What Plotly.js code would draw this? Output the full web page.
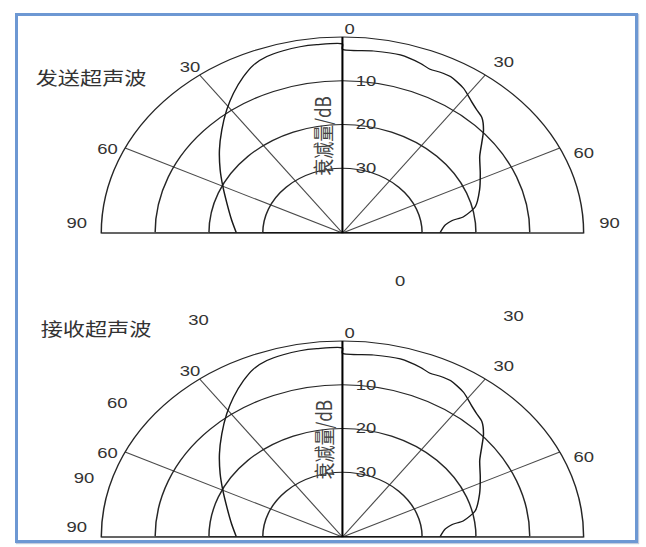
<!DOCTYPE html>
<html>
<head>
<meta charset="utf-8">
<script src="https://cdn.plot.ly/plotly-3.0.1.min.js"></script>
<style>
  html, body { margin: 0; padding: 0; background: #ffffff; }
  #wrap { position: relative; width: 646px; height: 547px; overflow: hidden; background: #fff; }
  #plot { position: absolute; left: 0; top: 0; width: 525px; height: 547px;
          transform: scaleX(1.2305); transform-origin: 0 0; }
  #frame { position: absolute; left: 15px; top: 12.5px; width: 623px; height: 530px;
           box-sizing: border-box; border: 3px solid #6d98d3;
           box-shadow: 1px 1px 1px rgba(80,110,160,0.35); pointer-events: none; }
</style>
</head>
<body>
<div id="wrap">
  <div id="plot"></div>
  <div id="frame"></div>
</div>
<script>
// ---- data (angle in the figure's plotted degrees, attenuation in dB) ----
const sendAngle = [-90, -81.8, -72.5, -64.5, -57.6, -50.3, -43.6, -37.4, -32.4, -27.2, -23.3, -19.2,
                   -14.8, -10.5, -6.3, 0, 0, 7.9, 14.8, 20.4, 23.5, 26.3, 29.3, 34.2, 38.7, 41.6,
                   44.4, 48.1, 51.6, 55.6, 62, 68.9, 76.3, 80.6, 82.1, 84.5, 90];
const sendDb    = [25.1, 24.0, 22.3, 20.2, 17.9, 15.1, 12.3, 9.4, 7.0, 4.6, 3.0, 2.1,
                   1.7, 1.5, 1.5, 1.6, 2.8, 2.8, 2.7, 3.4, 4.0, 3.8, 3.8, 4.8, 6.4, 7.2,
                   7.8, 9.6, 11.8, 13.9, 15.8, 17.5, 19.4, 22.0, 24.3, 25.6, 26.7];

const recvAngle = [-90, -81.8, -72.5, -64.5, -57.6, -50.3, -43.6, -37.4, -32.4, -27.2, -23.3, -19.2,
                   -14.8, -10.5, -6.3, 0, 0, 7.9, 14.8, 20.4, 23.5, 26.3, 29.3, 34.2, 38.7, 41.6,
                   44.4, 48.1, 51.6, 55.6, 62, 68.9, 76.3, 80.6, 82.1, 84.5, 90];
const recvDb    = [25.1, 24.0, 22.3, 20.2, 17.9, 15.1, 12.3, 9.4, 7.0, 4.6, 3.0, 2.1,
                   1.7, 1.5, 1.5, 1.6, 2.8, 2.8, 2.7, 3.4, 4.0, 3.8, 3.8, 4.8, 6.4, 7.2,
                   7.8, 9.6, 11.8, 13.9, 15.8, 17.5, 19.4, 22.0, 24.3, 25.6, 26.7];

// spokes as drawn in the figure and their printed labels
const spokeAngles     = [-90, -64.3, -36.3, 0, 36.3, 64.3, 90];
const sendSpokeLabels = ['90', '60', '30', '0', '30', '60', '90'];
const recvSpokeLabels = ['90', '60', '30', '0', '30', '60', ''];
const ringValues      = [10, 20, 30];
const ringLabels      = ['10', '20', '30'];
const radialRange     = [44.8, 0];

const titleSend   = '发送超声波';
const titleRecv   = '接收超声波';
const radialTitle = '衰减量/dB';
// stray labels printed in the gap between the two charts
const strayText = ['0', '30', '30', '60', '90'];

// ---- positions (kept apart from the data) ----
const spokeLabelX    = [0.1182, 0.1673, 0.2938, 0.5418, 0.7806, 0.9040, 0.9443]; // paper x
const spokeLabelRise = [10.3, 84.2, 166.6, 205, 171.2, 80.6, 10.3];              // px above baseline
const sendBase = 233, recvBase = 537, H = 547;
const strayX = [0.6197, 0.3067, 0.7954, 0.1820, 0.1310];
const strayY = [0.4868, 0.4150, 0.4241, 0.2638, 0.1274];

const numFont = {family: 'Liberation Sans, Arial, sans-serif', size: 15, color: '#333'};
const cjkFont = {family: 'Noto Sans CJK SC, sans-serif', size: 18, color: '#333'};
const ttlFont = {family: 'Noto Sans CJK SC, sans-serif', size: 17, color: '#444'};

function polarLayout(domY) {
  return {
    domain: {x: [0.15676, 0.90343], y: domY},
    sector: [0, 180],
    bgcolor: 'rgba(0,0,0,0)',
    angularaxis: {
      rotation: 90, direction: 'clockwise',
      tickmode: 'array', tickvals: spokeAngles,
      showticklabels: false,
      showgrid: true, gridcolor: '#4a4a4a', gridwidth: 1,
      showline: true, linecolor: '#262626', linewidth: 1.2,
      ticks: ''
    },
    radialaxis: {
      range: radialRange, angle: 90,
      tickmode: 'array', tickvals: ringValues, ticktext: ringLabels,
      showgrid: true, gridcolor: '#262626', gridwidth: 1.2,
      showline: true, linecolor: '#000', linewidth: 1.6,
      ticks: 'outside', ticklen: 7, tickcolor: 'rgba(0,0,0,0)',
      tickangle: 90,
      tickfont: numFont
    }
  };
}

const curveLine = {color: '#1a1a1a', width: 1.2, shape: 'spline', smoothing: 0.7};
const traces = [];

// darker baseline segments along the ±90 spokes, between successive rings
const levels = [radialRange[0]].concat(ringValues.slice().reverse(), [radialRange[1]]);
const segColor = ['#000000', '#303030', '#6a6a6a', '#a8a8a8'];
const segWidth = [2.2, 2, 1.8, 1.6];
['polar', 'polar2'].forEach(sp => {
  [spokeAngles[0], spokeAngles[spokeAngles.length - 1]].forEach(a => {
    for (let i = 0; i < levels.length - 1; i++) {
      traces.push({type: 'scatterpolar', subplot: sp, mode: 'lines',
        r: [levels[i], levels[i + 1]], theta: [a, a],
        line: {color: segColor[i], width: segWidth[i]}, hoverinfo: 'skip', showlegend: false});
    }
  });
});

traces.push({type: 'scatterpolar', subplot: 'polar', r: sendDb, theta: sendAngle, mode: 'lines',
   line: curveLine, hoverinfo: 'skip', showlegend: false});
traces.push({type: 'scatterpolar', subplot: 'polar2', r: recvDb, theta: recvAngle, mode: 'lines',
   line: curveLine, hoverinfo: 'skip', showlegend: false});

function ann(text, x, y, font, extra) {
  return Object.assign({text: text, x: x, y: y, xref: 'paper', yref: 'paper', showarrow: false,
    xanchor: 'center', yanchor: 'middle', font: font}, extra || {});
}

const annotations = [
  ann(titleSend, 0.1413, 1 - 77 / H, cjkFont),
  ann(titleRecv, 0.1486, 1 - 328.3 / H, cjkFont),
  ann(radialTitle, 0.4989, 1 - 135.8 / H, ttlFont, {textangle: -90}),
  ann(radialTitle, 0.4989, 1 - 439.5 / H, ttlFont, {textangle: -90})
];
sendSpokeLabels.forEach((t, i) => { if (t) annotations.push(
  ann(t, spokeLabelX[i], 1 - (sendBase - spokeLabelRise[i]) / H, numFont)); });
recvSpokeLabels.forEach((t, i) => { if (t) annotations.push(
  ann(t, spokeLabelX[i], 1 - (recvBase - spokeLabelRise[i]) / H, numFont)); });
strayText.forEach((t, i) => annotations.push(ann(t, strayX[i], strayY[i], numFont)));

const layout = {
  width: 525, height: 547,
  margin: {l: 0, r: 0, t: 0, b: 0},
  paper_bgcolor: 'rgba(0,0,0,0)',
  showlegend: false,
  polar: polarLayout([1 - sendBase / H, 1 - 37 / H]),
  polar2: polarLayout([1 - recvBase / H, 1 - 341 / H]),
  annotations: annotations
};

Plotly.newPlot('plot', traces, layout, {displayModeBar: false, staticPlot: true});
</script>
</body>
</html>
